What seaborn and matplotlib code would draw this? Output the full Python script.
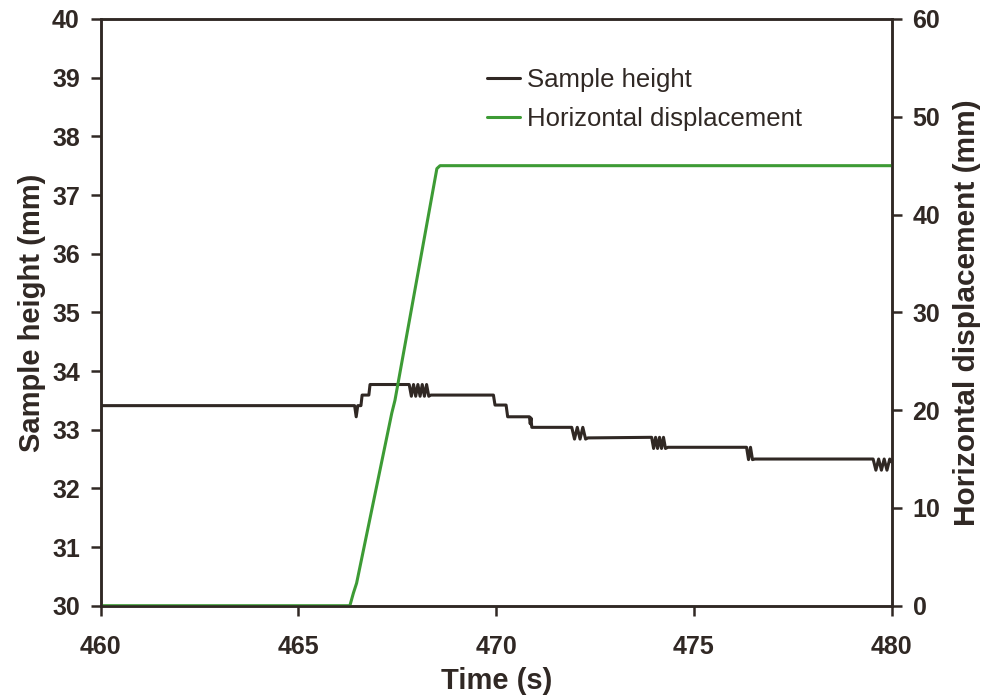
import matplotlib
matplotlib.use("Agg")
import matplotlib.pyplot as plt
import seaborn as sns
import pandas as pd

# ---------------- data ----------------
time_height = [460.00, 466.42, 466.46, 466.50, 466.58, 466.61, 466.78, 466.81,
               467.80, 467.855, 467.91, 467.965, 468.02, 468.075, 468.13, 468.185,
               468.24, 468.295, 468.35, 469.93, 469.97, 470.25, 470.29, 470.84,
               470.86, 470.88, 470.90, 471.91, 471.98, 472.05, 472.12, 472.19,
               472.26, 472.32, 473.93, 473.98, 474.03, 474.08, 474.13, 474.18,
               474.23, 474.28, 474.34, 476.33, 476.38, 476.43, 476.48, 476.54,
               479.53, 479.60, 479.67, 479.74, 479.81, 479.88, 479.95, 480.00]
sample_height = [33.41, 33.41, 33.22, 33.41, 33.41, 33.59, 33.59, 33.77,
                 33.77, 33.57, 33.77, 33.57, 33.77, 33.57, 33.77, 33.57,
                 33.77, 33.57, 33.59, 33.59, 33.42, 33.42, 33.22, 33.22,
                 33.10, 33.20, 33.04, 33.04, 32.84, 33.04, 32.84, 33.04,
                 32.84, 32.86, 32.87, 32.68, 32.87, 32.68, 32.87, 32.68,
                 32.87, 32.68, 32.70, 32.70, 32.49, 32.70, 32.49, 32.50,
                 32.50, 32.31, 32.50, 32.31, 32.50, 32.31, 32.50, 32.45]

time_disp = [460.00, 466.30, 466.39, 466.47, 467.36, 467.44, 468.50, 468.58, 480.00]
horizontal_disp = [0.0, 0.0, 1.3, 2.3, 19.7, 21.0, 44.7, 45.0, 45.0]

x_ticks = [460, 465, 470, 475, 480]
left_ticks = [30, 31, 32, 33, 34, 35, 36, 37, 38, 39, 40]
right_ticks = [0, 10, 20, 30, 40, 50, 60]

# ---------------- style ----------------
sns.set_style("ticks")
plt.rcParams['font.family'] = ['Liberation Sans', 'DejaVu Sans']
dark = "#302824"
green = "#3d9b35"

fig = plt.figure(figsize=(9.92, 6.99), dpi=100)
ax = fig.add_axes([100.7 / 992, 1 - 605.7 / 699, (891.7 - 100.7) / 992, (605.7 - 19) / 699])
ax2 = ax.twinx()

df_h = pd.DataFrame({"t": time_height, "h": sample_height})
df_d = pd.DataFrame({"t": time_disp, "d": horizontal_disp})

sns.lineplot(data=df_h, x="t", y="h", ax=ax, color=dark, linewidth=2.2,
             label="Sample height", legend=False, estimator=None, sort=False)
sns.lineplot(data=df_d, x="t", y="d", ax=ax2, color=green, linewidth=2.2,
             label="Horizontal displacement", legend=False, estimator=None, sort=False)

ax.set_xlim(460, 480)
ax.set_ylim(30, 40)
ax2.set_ylim(0, 60)
ax.set_xticks(x_ticks)
ax.set_yticks(left_ticks)
ax2.set_yticks(right_ticks)

for a in (ax, ax2):
    for s in a.spines.values():
        s.set_visible(True)
        s.set_color(dark)
        s.set_linewidth(1.8)

ax.tick_params(axis='x', direction='out', length=7, width=1.8, color=dark,
               labelsize=18, labelcolor=dark, pad=14)
ax.tick_params(axis='y', direction='out', length=7, width=1.8, color=dark,
               labelsize=18, labelcolor=dark, pad=8)
ax2.tick_params(axis='y', direction='out', length=7, width=1.8, color=dark,
                labelsize=18, labelcolor=dark, pad=8)
for lbl in ax.get_xticklabels() + ax.get_yticklabels() + ax2.get_yticklabels():
    lbl.set_fontweight('bold')

ax.set_xlabel("Time (s)", fontsize=21, fontweight='bold', color=dark, labelpad=6)
ax.set_ylabel("Sample height (mm)", fontsize=21, fontweight='bold', color=dark, labelpad=4)
ax2.set_ylabel("Horizontal displacement (mm)", fontsize=21.5, fontweight='bold', color=dark, labelpad=9)

h1, l1 = ax.get_legend_handles_labels()
h2, l2 = ax2.get_legend_handles_labels()
leg = ax2.legend(h1 + h2, l1 + l2, loc='upper left',
                 bbox_to_anchor=(486.7 / 992, 1 - 68 / 699), bbox_transform=fig.transFigure,
                 frameon=False, fontsize=18.5, handlelength=1.3, handletextpad=0.27,
                 borderpad=0, borderaxespad=0, labelspacing=0.57)
for t in leg.get_texts():
    t.set_color(dark)

fig.savefig("out.png", dpi=100)
